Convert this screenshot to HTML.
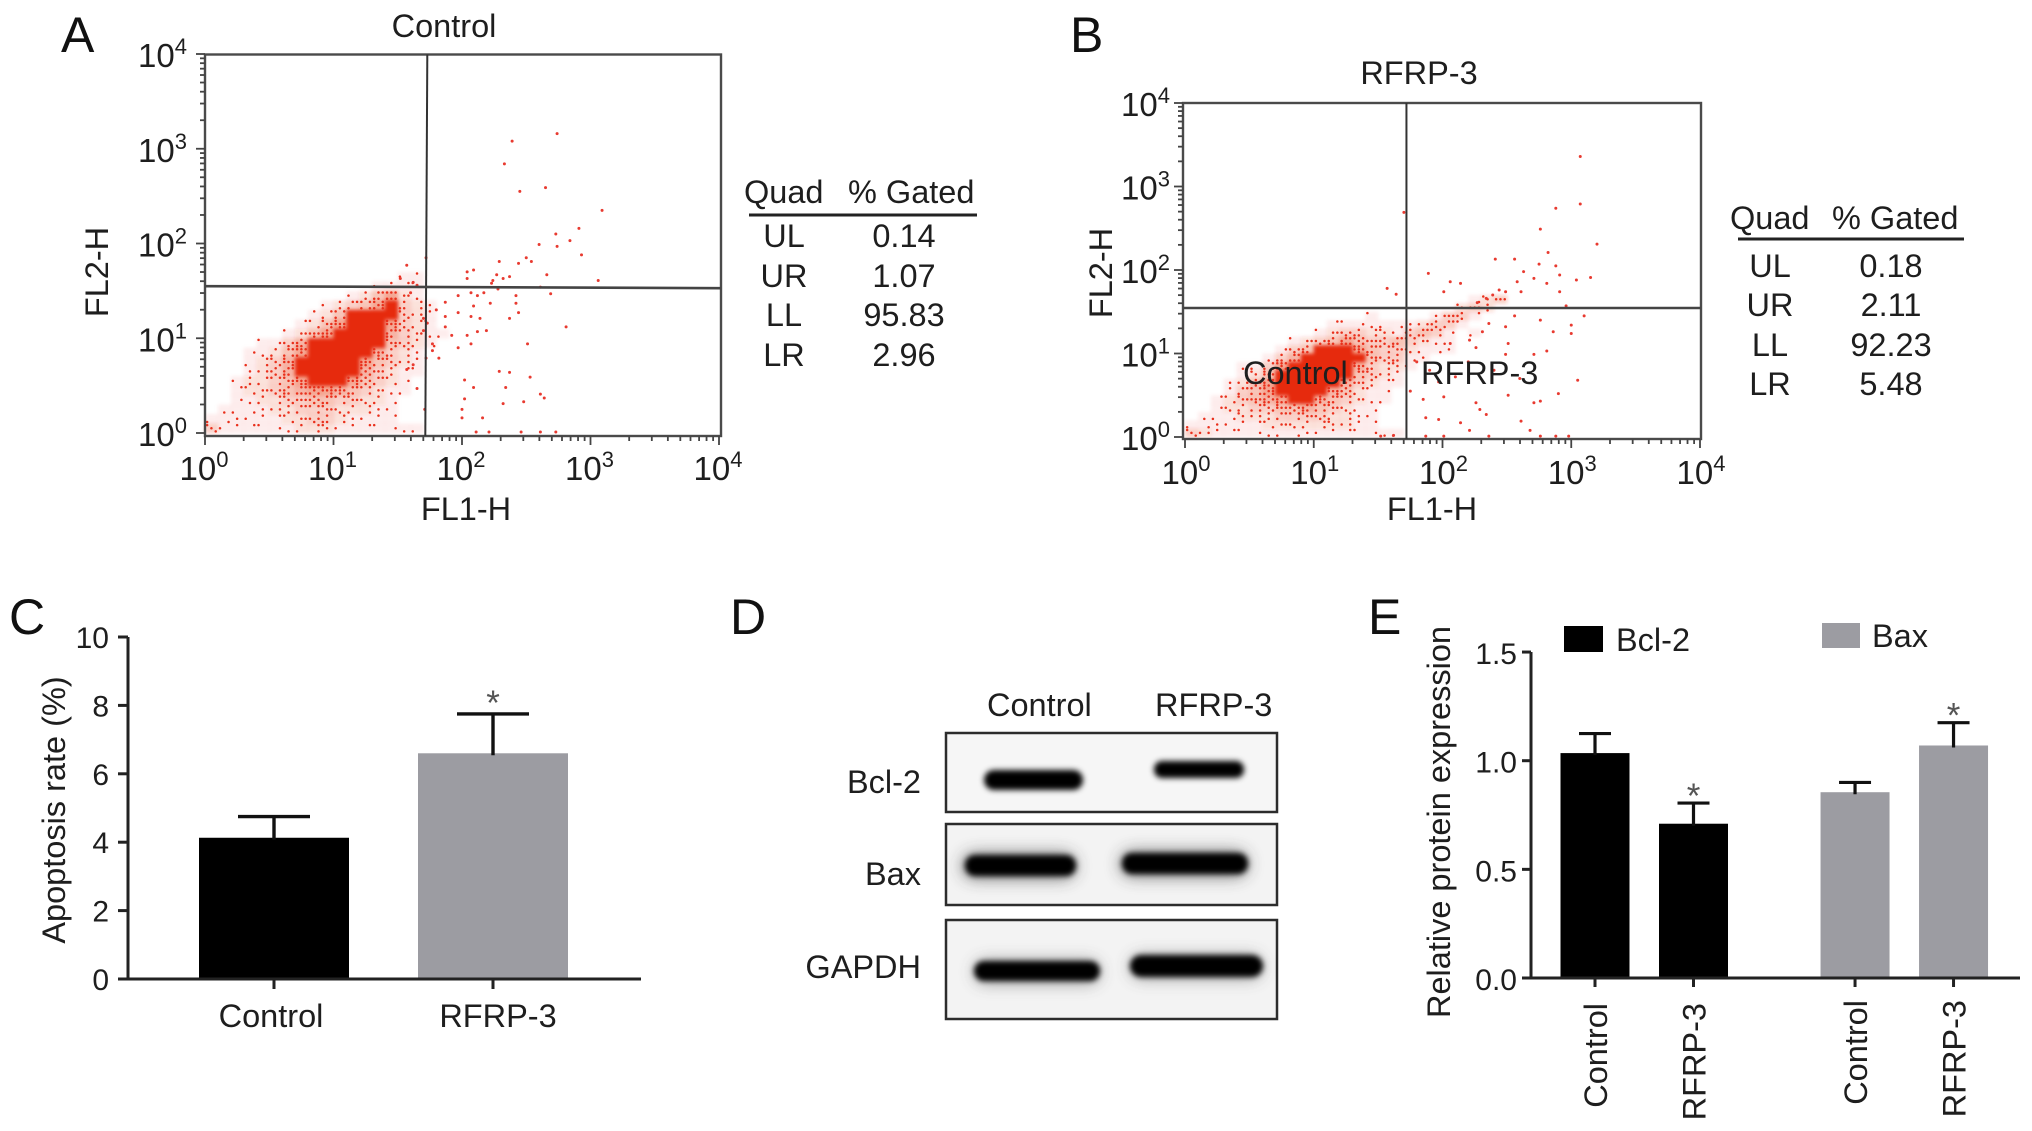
<!DOCTYPE html>
<html lang="en">
<head>
<meta charset="utf-8">
<title>Apoptosis and protein expression figure</title>
<style>
html,body{margin:0;padding:0;background:#fff;}
svg{display:block;}
text{font-family:"Liberation Sans",sans-serif;fill:#1e1e1e;font-size:32.5px;}
.letter{font-size:50px;fill:#111;}
</style>
</head>
<body>
<svg id="fig" xmlns="http://www.w3.org/2000/svg" width="2032" height="1131" viewBox="0 0 2032 1131">
<defs>
<filter id="soft" x="-10%" y="-10%" width="120%" height="120%"><feGaussianBlur stdDeviation="1.8"/></filter>
<filter id="b3" x="-20%" y="-80%" width="140%" height="260%"><feGaussianBlur stdDeviation="3"/></filter>
<filter id="b9" x="-30%" y="-150%" width="160%" height="400%"><feGaussianBlur stdDeviation="8"/></filter>
</defs>
<rect width="2032" height="1131" fill="#fff"/>

<text class="letter" x="61" y="52">A</text>
<text class="letter" x="1070" y="52">B</text>
<text class="letter" x="9" y="634">C</text>
<text class="letter" x="730" y="634">D</text>
<text class="letter" x="1368" y="634">E</text>

<g id="panelA"></g>
<g id="panelB"></g>

<text x="1243" y="384">Control</text>
<text x="1421" y="384">RFRP-3</text>

<g id="panelC"></g>

<g id="panelD">
  <text x="987" y="716">Control</text>
  <text x="1155" y="716">RFRP-3</text>
  <text x="921" y="793" text-anchor="end">Bcl-2</text>
  <text x="921" y="885" text-anchor="end">Bax</text>
  <text x="921" y="978" text-anchor="end">GAPDH</text>

  <g>
    <rect x="946" y="733" width="331" height="79" fill="#f6f6f6" stroke="#2c2c2c" stroke-width="2.5"/>
    <rect x="984" y="770" width="99" height="20" rx="10" fill="#000" filter="url(#b3)"/>
    <rect x="1154" y="761" width="90" height="17" rx="8" fill="#000" filter="url(#b3)"/>
  </g>
  <g>
    <rect x="946" y="824" width="331" height="81" fill="#f3f3f3" stroke="#2c2c2c" stroke-width="2.5"/>
    <rect x="962" y="853" width="114" height="26" rx="13" fill="#333" opacity=".6" filter="url(#b9)"/>
    <rect x="1120" y="851" width="128" height="26" rx="13" fill="#333" opacity=".6" filter="url(#b9)"/>
    <rect x="965" y="855" width="111" height="21" rx="10" fill="#000" filter="url(#b3)"/>
    <rect x="1122" y="853" width="126" height="21" rx="10" fill="#000" filter="url(#b3)"/>
  </g>
  <g>
    <rect x="946" y="920" width="331" height="99" fill="#f3f3f3" stroke="#2c2c2c" stroke-width="2.5"/>
    <rect x="974" y="960" width="126" height="24" rx="12" fill="#444" opacity=".45" filter="url(#b9)"/>
    <rect x="1130" y="955" width="132" height="24" rx="12" fill="#444" opacity=".45" filter="url(#b9)"/>
    <rect x="974" y="961" width="126" height="20" rx="10" fill="#000" filter="url(#b3)"/>
    <rect x="1130" y="955" width="133" height="22" rx="11" fill="#000" filter="url(#b3)"/>
  </g>
</g>

<g id="panelE">
  <rect x="1564" y="626" width="39" height="26" fill="#000"/>
  <text x="1616" y="651">Bcl-2</text>
  <rect x="1822" y="623" width="38" height="25" fill="#9c9ca2"/>
  <text x="1872" y="647">Bax</text>
</g>

<g>
  <text x="744" y="203">Quad</text>
  <text x="848" y="203">% Gated</text>
  <line x1="749" x2="977" y1="215" y2="215" stroke="#222" stroke-width="3"/>
  <text x="784" y="247" text-anchor="middle">UL</text>
  <text x="904" y="247" text-anchor="middle">0.14</text>
  <text x="784" y="287" text-anchor="middle">UR</text>
  <text x="904" y="287" text-anchor="middle">1.07</text>
  <text x="784" y="326" text-anchor="middle">LL</text>
  <text x="904" y="326" text-anchor="middle">95.83</text>
  <text x="784" y="366" text-anchor="middle">LR</text>
  <text x="904" y="366" text-anchor="middle">2.96</text>
</g>
<g>
  <text x="1730" y="229">Quad</text>
  <text x="1832" y="229">% Gated</text>
  <line x1="1738" x2="1964" y1="239" y2="239" stroke="#222" stroke-width="3"/>
  <text x="1770" y="277" text-anchor="middle">UL</text>
  <text x="1891" y="277" text-anchor="middle">0.18</text>
  <text x="1770" y="316" text-anchor="middle">UR</text>
  <text x="1891" y="316" text-anchor="middle">2.11</text>
  <text x="1770" y="356" text-anchor="middle">LL</text>
  <text x="1891" y="356" text-anchor="middle">92.23</text>
  <text x="1770" y="395" text-anchor="middle">LR</text>
  <text x="1891" y="395" text-anchor="middle">5.48</text>
</g>
</svg>

<script>
// ---------- Flow cytometry data (log10 units) ----------
const logDecades = [0, 1, 2, 3, 4];
const decadeExponents = ['0', '1', '2', '3', '4'];
const gateControl = [1.73, 1.55];
const gateRfrp = [1.72, 1.545];

// Event density per 0.1-decade bin; first row is the lowest FL2 bin.
const densityControl = [
[3,1,1,1,1,1,1,2,2,2,1,1,1,1,1,1,1,0,0,0],
[1,1,1,1,1,1,2,2,3,3,2,1,1,1,1,0,0,0,0,0],
[0,1,1,1,1,2,2,3,3,3,2,2,2,1,1,0,0,0,0,0],
[0,0,1,1,2,2,3,3,4,4,3,3,2,2,1,0,0,0,0,0],
[0,0,1,2,2,3,4,5,6,6,5,4,3,2,1,1,0,0,0,0],
[0,0,1,2,2,3,4,6,8,9,8,6,4,3,2,1,0,0,0,0],
[0,0,0,1,2,3,5,7,9,9,9,8,5,3,2,1,1,0,0,0],
[0,0,0,1,2,3,5,8,9,9,9,9,6,4,3,2,1,0,0,0],
[0,0,0,1,1,2,4,6,9,9,9,9,8,5,3,2,1,0,0,0],
[0,0,0,0,1,1,3,5,7,9,9,9,9,7,4,3,2,1,0,0],
[0,0,0,0,0,0,1,2,4,6,9,9,9,8,5,3,2,1,1,0],
[0,0,0,0,0,0,0,1,2,4,6,9,9,9,6,3,2,1,0,0],
[0,0,0,0,0,0,0,0,1,2,4,7,8,8,7,3,2,1,0,0],
[0,0,0,0,0,0,0,0,0,1,2,3,4,6,7,3,2,1,0,0],
[0,0,0,0,0,0,0,0,0,0,0,1,2,4,6,2,1,0,0,0],
[0,0,0,0,0,0,0,0,0,0,0,0,0,1,1,1,1,0,0,0],
[0,0,0,0,0,0,0,0,0,0,0,0,0,0,0,1,1,0,0,0]
];
const densityRfrp = [
[3,2,1,1,1,1,1,1,1,1,1,1,1,1,1,1,1,0,0,0,0,0,0,0,0],
[1,1,1,1,1,1,2,2,2,2,2,2,2,1,1,0,0,0,0,0,0,0,0,0,0],
[0,1,1,1,2,2,2,3,3,3,3,2,2,1,1,0,0,0,0,0,0,0,0,0,0],
[0,0,1,2,2,3,3,4,4,5,4,3,2,1,1,0,0,0,0,0,0,0,0,0,0],
[0,0,1,2,3,4,5,6,7,7,5,4,3,2,1,1,0,0,0,0,0,0,0,0,0],
[0,0,0,1,3,4,6,7,9,9,7,5,4,2,1,1,0,0,0,0,0,0,0,0,0],
[0,0,0,1,2,4,6,8,9,9,9,7,5,3,2,1,1,0,0,0,0,0,0,0,0],
[0,0,0,0,1,2,4,7,9,9,9,9,8,4,3,2,1,0,0,0,0,0,0,0,0],
[0,0,0,0,1,1,3,6,9,9,9,9,9,5,3,2,2,1,0,0,0,0,0,0,0],
[0,0,0,0,0,0,1,3,5,8,9,9,9,7,4,3,3,1,1,0,0,0,0,0,0],
[0,0,0,0,0,0,0,1,3,4,7,8,9,6,4,3,3,2,1,1,1,0,0,0,0],
[0,0,0,0,0,0,0,0,1,2,3,4,6,4,3,3,4,3,2,1,1,0,0,0,0],
[0,0,0,0,0,0,0,0,0,0,1,2,3,3,2,2,1,3,4,3,1,0,1,0,0],
[0,0,0,0,0,0,0,0,0,0,0,1,1,1,1,1,1,1,2,3,3,1,0,0,0],
[0,0,0,0,0,0,0,0,0,0,0,0,0,0,1,0,0,0,0,1,3,3,1,0,0],
[0,0,0,0,0,0,0,0,0,0,0,0,0,0,0,0,0,0,0,0,0,2,3,2,0],
[0,0,0,0,0,0,0,0,0,0,0,0,0,0,0,0,0,0,0,0,0,0,1,2,3]
];

// Individually visible events: [log10 FL1, log10 FL2]
const eventsControl = [
[2.39,3.08],[2.74,3.16],[2.33,2.84],[2.65,2.59],[2.45,2.55],[3.09,2.35],[2.91,2.16],[2.73,2.10],[2.84,2.03],[2.74,1.97],
[2.60,1.99],[2.93,1.88],[2.50,1.85],[2.44,1.79],[2.54,1.81],[2.29,1.81],[1.57,1.77],[1.72,1.85],[2.04,1.70],[2.09,1.72],
[2.04,1.63],[2.27,1.67],[2.32,1.63],[2.37,1.65],[2.24,1.61],[2.66,1.67],[3.06,1.61],[1.52,1.63],[1.62,1.59],[1.65,1.56],
[2.69,1.47],[2.61,1.54],[2.42,1.45],[2.17,1.48],[2.12,1.45],[2.07,1.48],[1.97,1.45],[2.42,1.37],[2.22,1.37],[2.09,1.34],
[1.87,1.23],[1.97,1.27],[2.07,1.23],[2.14,1.21],[2.37,1.21],[2.44,1.27],[2.81,1.12],[2.19,1.08],[1.87,1.12],[1.92,1.03],
[2.04,1.03],[2.12,1.07],[2.07,.94],[1.77,.94],[1.82,.79],[1.97,.90],[2.51,.94],[2.29,.65],[2.37,.64],[2.53,.59],
[2.34,.48],[2.02,.56],[2.09,.48],[2.61,.41],[2.64,.37],[2.32,.31],[2.48,.33],[2.02,.36],[2.00,.25],[2.16,.16],
[2.00,.16],[1.71,.25],[1.65,.47],[1.57,.67],[1.62,.72],[1.72,.79],[1.77,.87],[1.70,1.08],[1.73,1.16],[1.70,1.21],
[2.11,.01],[2.21,.01],[2.46,.01],[2.61,.01],[2.73,.01],[2.23,1.58],[2.28,1.52],[1.87,1.38],[1.80,1.30],[1.60,1.48]
];
const eventsRfrp = [
[3.07,3.36],[3.07,2.79],[2.88,2.74],[2.76,2.49],[3.20,2.31],[1.70,2.69],[2.82,2.21],[2.41,2.13],[2.56,2.13],[2.75,2.07],
[2.88,2.05],[2.63,1.98],[2.71,1.90],[3.15,1.91],[3.04,1.88],[2.91,1.94],[2.58,1.86],[2.81,1.84],[1.89,1.96],[2.06,1.86],
[2.14,1.84],[2.01,1.74],[1.57,1.78],[1.64,1.71],[2.91,1.74],[2.61,1.74],[2.44,1.76],[2.49,1.74],[2.39,1.70],[2.34,1.66],
[2.27,1.61],[2.96,1.57],[3.10,1.45],[3.00,1.34],[3.00,1.24],[2.76,1.40],[2.56,1.45],[2.49,1.32],[2.36,1.36],[2.86,1.26],
[2.71,.99],[2.81,1.03],[2.51,1.12],[2.49,.99],[2.31,1.26],[2.21,1.16],[2.26,1.07],[2.06,1.12],[3.05,.68],[2.90,.52],
[2.76,.43],[2.71,.41],[2.51,.50],[2.26,.41],[2.29,.33],[2.34,.27],[2.01,.48],[1.97,.66],[1.87,.23],[1.97,.21],
[2.14,.17],[2.21,.08],[2.61,.19],[2.68,.08],[2.36,.01],[2.76,.01],[2.88,.01],[2.98,.01],[2.01,.01],[1.87,.01],
[1.52,.01],[1.62,.02],[1.80,.90],[1.90,.80],[2.10,.72],[2.20,.90],[2.40,.80],[2.60,.70],[1.75,.55],[1.85,.45]
];

// ---------- Bar chart data ----------
const apoptosisCategories = ['Control', 'RFRP-3'];
const apoptosisValues = [4.13, 6.6];
const apoptosisErrors = [0.62, 1.15];
const apoptosisColors = ['#000000', '#9c9ca2'];
const apoptosisTicks = [0, 2, 4, 6, 8, 10];
const apoptosisStars = [false, true];

const proteinCategories = ['Control', 'RFRP-3', 'Control', 'RFRP-3'];
const proteinValues = [1.035, 0.71, 0.855, 1.07];
const proteinErrors = [0.09, 0.095, 0.045, 0.105];
const proteinColors = ['#000000', '#000000', '#9c9ca2', '#9c9ca2'];
const proteinTicks = [0, 0.5, 1, 1.5];
const proteinStars = [false, true, false, true];

// ---------- Helpers ----------
const SVGNS = 'http://www.w3.org/2000/svg';
function make(parent, tag, attrs, content) {
  const el = document.createElementNS(SVGNS, tag);
  for (const k in attrs) el.setAttribute(k, attrs[k]);
  if (content !== undefined) el.textContent = content;
  parent.appendChild(el);
  return el;
}
function exponentLabel(parent, x, y, anchor, exponent) {
  const t = make(parent, 'text', {x: x, y: y, 'text-anchor': anchor, style: 'font-size:33px'}, '10');
  make(t, 'tspan', {dy: -13, style: 'font-size:22px'}, exponent);
  return t;
}

// ---------- Flow plots ----------
const slotOrder = [4, 0, 8, 2, 6, 1, 7, 3, 5];
function drawFlow(rootId, cfg) {
  const root = document.getElementById(rootId);
  const x = v => cfg.x0 + (cfg.x4 - cfg.x0) * v / 4;
  const y = v => cfg.y0 + (cfg.y4 - cfg.y0) * v / 4;

  const title = make(root, 'text', {x: cfg.titleX, y: cfg.titleY, 'text-anchor': 'middle'}, cfg.title);
  
  

  const density = make(root, 'g', {filter: 'url(#soft)'});
  
  
  const stipple = make(root, 'g', {fill: '#e9301c'});
  
  
  cfg.density.forEach((row, r) => row.forEach((n, c) => {
    if (!n) return;
    const cw = x(0.1) - x(0), ch = y(0) - y(0.1);
    const cell = make(density, 'rect', {
      x: x(c * 0.1), y: y((r + 1) * 0.1),
      width: cw + 0.4, height: ch + 0.4,
      fill: '#e62a0c', opacity: n >= 7 ? 1 : n * 0.07
    });
    
    
    if (n >= 7) return;
    for (let k = 0; k < n; k++) {
      const slot = slotOrder[(k + r * 4 + c * 7) % 9];
      const dot = make(stipple, 'circle', {
        cx: x(c * 0.1) + cw * ((slot % 3) + 0.5) / 3,
        cy: y((r + 1) * 0.1) + ch * (Math.floor(slot / 3) + 0.5) / 3,
        r: 1.25
      });
      
      
    }
  }));

  const dots = make(root, 'g', {});
  
  
  cfg.events.forEach(p => {
    const d = make(dots, 'circle', {cx: x(p[0]), cy: y(p[1]), r: 1.5, fill: '#e83a30'});
    
    
  });

  const frame = make(root, 'rect', {
    x: cfg.frameL, y: cfg.frameT, width: cfg.frameR - cfg.frameL, height: cfg.frameB - cfg.frameT,
    fill: 'none', stroke: '#4a4a4a', 'stroke-width': 2.4
  });
  
  

  const gateV = make(root, 'line', {x1: x(cfg.gate[0]), x2: x(cfg.gate[0]) - cfg.tilt, y1: cfg.frameT, y2: cfg.frameB, stroke: '#333', 'stroke-width': 2});
  
  
  const gateH = make(root, 'line', {x1: cfg.frameL, x2: cfg.frameR, y1: y(cfg.gate[1]), y2: y(cfg.gate[1]) + cfg.tilt, stroke: '#444', 'stroke-width': 2.6});
  
  

  const ticks = make(root, 'g', {stroke: '#444', 'stroke-width': 1.8});
  
  
  logDecades.forEach(d => {
    const mults = d < 4 ? [1, 2, 3, 4, 5, 6, 7, 8, 9] : [1];
    mults.forEach(m => {
      const v = d + Math.log10(m);
      const len = m === 1 ? 9 : 5;
      make(ticks, 'line', {x1: x(v), x2: x(v), y1: cfg.frameB, y2: cfg.frameB + len});
      make(ticks, 'line', {x1: cfg.frameL, x2: cfg.frameL - len, y1: y(v), y2: y(v)});
    });
  });

  logDecades.forEach((d, i) => {
    const xl = exponentLabel(root, x(d) + cfg.xLabelShift, cfg.xLabelY, 'middle', decadeExponents[i]);
    
    
    const yl = exponentLabel(root, cfg.yLabelX, y(d) + 13, 'start', decadeExponents[i]);
    
    
  });

  const xt = make(root, 'text', {x: cfg.xTitleX, y: 520, 'text-anchor': 'middle'}, 'FL1-H');
  
  
  const yt = make(root, 'text', {x: cfg.yTitleX, y: cfg.yTitleY, 'text-anchor': 'middle',
    transform: 'rotate(-90 ' + cfg.yTitleX + ' ' + cfg.yTitleY + ')'}, 'FL2-H');
  
  
}

drawFlow('panelA', {
  title: 'Control', titleX: 444, titleY: 37,
  x0: 205, x4: 719, y0: 433, y4: 54,
  frameL: 205, frameR: 721, frameT: 54.5, frameB: 436,
  gate: gateControl, tilt: 2, density: densityControl, events: eventsControl,
  xLabelShift: -1, xLabelY: 480, yLabelX: 138, xTitleX: 466, yTitleX: 108, yTitleY: 272
});
drawFlow('panelB', {
  title: 'RFRP-3', titleX: 1419, titleY: 84,
  x0: 1185, x4: 1700, y0: 437, y4: 103,
  frameL: 1183, frameR: 1701, frameT: 103, frameB: 439,
  gate: gateRfrp, tilt: 0, density: densityRfrp, events: eventsRfrp,
  xLabelShift: 1, xLabelY: 484, yLabelX: 1121, xTitleX: 1432, yTitleX: 1112, yTitleY: 273
});

// ---------- Apoptosis bar chart ----------
(function () {
  const root = document.getElementById('panelC');
  const y = v => 979 - v * 34.2;
  const xc = i => 274 + i * 219;
  const barW = 150;
  const rotate = (x, yy) => 'rotate(-90 ' + x + ' ' + yy + ')';

  apoptosisCategories.forEach((name, i) => {
    const bar = make(root, 'rect', {x: xc(i) - barW / 2, y: y(apoptosisValues[i]), width: barW, height: y(0) - y(apoptosisValues[i]), fill: apoptosisColors[i]});
    
    
    const top = y(apoptosisValues[i] + apoptosisErrors[i]);
    const whisker = make(root, 'path', {d: 'M' + (xc(i) - 36) + ' ' + top + 'H' + (xc(i) + 36) + 'M' + xc(i) + ' ' + top + 'V' + (y(apoptosisValues[i]) + 2), stroke: '#111', 'stroke-width': 3.4, fill: 'none'});
    
    
    const tick = make(root, 'line', {x1: xc(i), x2: xc(i), y1: y(0), y2: y(0) + 10, stroke: '#222', 'stroke-width': 3});
    
    
    const label = make(root, 'text', {x: xc(i) + (i ? 5 : -3), y: 1027, 'text-anchor': 'middle'}, name);
    
    
    if (apoptosisStars[i]) {
      const star = make(root, 'text', {x: xc(i), y: top + 1, 'text-anchor': 'middle', style: 'font-size:35px;fill:#555'}, '*');
      
      
    }
  });

  const axis = make(root, 'path', {d: 'M128 ' + y(10) + 'V' + y(0) + 'M118 ' + y(0) + 'H641', stroke: '#222', 'stroke-width': 3, fill: 'none'});
  
  
  apoptosisTicks.forEach(v => {
    const t = make(root, 'line', {x1: 118, x2: 128, y1: y(v), y2: y(v), stroke: '#222', 'stroke-width': 3});
    
    
    const l = make(root, 'text', {x: 109, y: y(v) + 11, 'text-anchor': 'end', style: 'font-size:30px'}, String(v));
    
    
  });
  const title = make(root, 'text', {x: 65, y: 810, 'text-anchor': 'middle', transform: rotate(65, 810)}, 'Apoptosis rate (%)');
  
  
})();

// ---------- Protein expression bar chart ----------
(function () {
  const root = document.getElementById('panelE');
  const y = v => 978 - v * 217.3;
  const xc = i => 1595 + 98.5 * (i + (i > 1 ? 0.64 : 0));
  const barW = 69;
  const labelTop = [1003, 1003, 1000, 1000];

  proteinCategories.forEach((name, i) => {
    const bar = make(root, 'rect', {x: xc(i) - barW / 2, y: y(proteinValues[i]), width: barW, height: y(0) - y(proteinValues[i]), fill: proteinColors[i]});
    
    
    const top = y(proteinValues[i] + proteinErrors[i]);
    const whisker = make(root, 'path', {d: 'M' + (xc(i) - 16) + ' ' + top + 'H' + (xc(i) + 16) + 'M' + xc(i) + ' ' + top + 'V' + (y(proteinValues[i]) + 2), stroke: '#111', 'stroke-width': 3.2, fill: 'none'});
    
    
    const tick = make(root, 'line', {x1: xc(i), x2: xc(i), y1: y(0), y2: y(0) + 9, stroke: '#222', 'stroke-width': 3});
    
    
    const lx = xc(i) + 12;
    const label = make(root, 'text', {x: lx, y: labelTop[i], 'text-anchor': 'end', transform: 'rotate(-90 ' + lx + ' ' + labelTop[i] + ')'}, name);
    
    
    if (proteinStars[i]) {
      const star = make(root, 'text', {x: xc(i), y: top + 5, 'text-anchor': 'middle', style: 'font-size:35px;fill:#555'}, '*');
      
      
    }
  });

  const axis = make(root, 'path', {d: 'M1531 ' + y(1.5) + 'V' + y(0) + 'M1522 ' + y(0) + 'H2020', stroke: '#222', 'stroke-width': 3, fill: 'none'});
  
  
  proteinTicks.forEach(v => {
    const t = make(root, 'line', {x1: 1522, x2: 1531, y1: y(v), y2: y(v), stroke: '#222', 'stroke-width': 3});
    
    
    const l = make(root, 'text', {x: 1517, y: y(v) + 12, 'text-anchor': 'end', style: 'font-size:30px'}, v.toFixed(1));
    
    
  });
  const title = make(root, 'text', {x: 1450, y: 822, 'text-anchor': 'middle', transform: 'rotate(-90 1450 822)'}, 'Relative protein expression');
  
  
})();
</script>
</body>
</html>
